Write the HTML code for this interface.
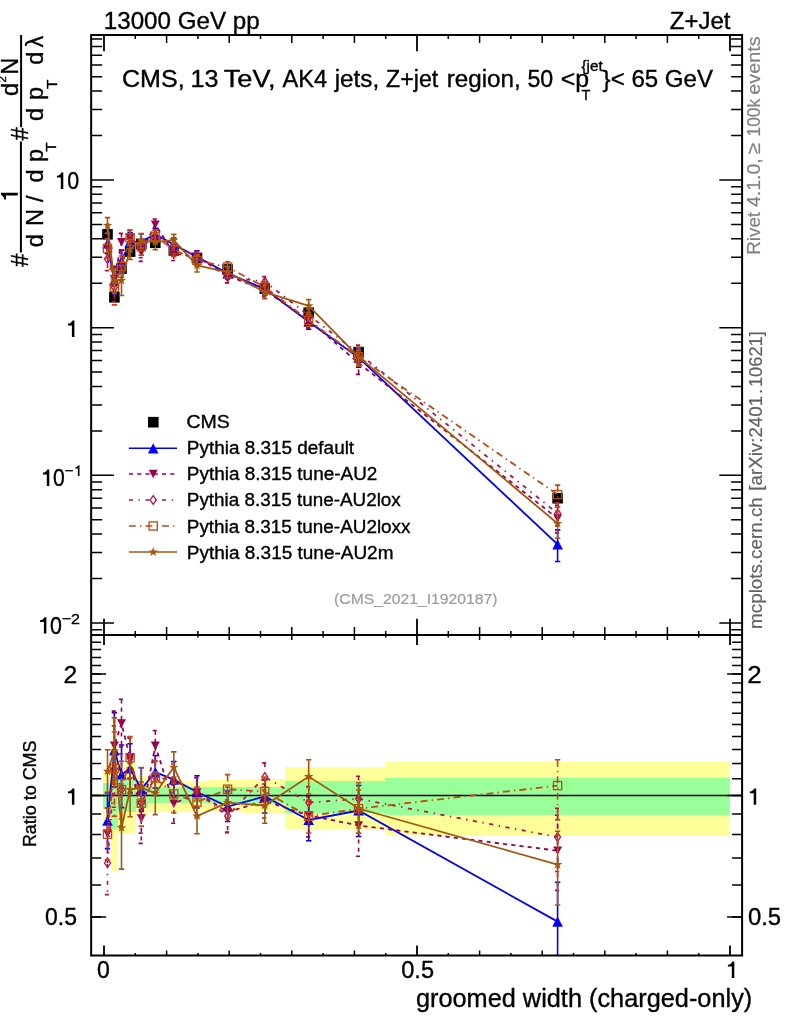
<!DOCTYPE html>
<html><head><meta charset="utf-8"><title>Z+Jet groomed width</title>
<style>html,body{margin:0;padding:0;background:#fff}body{width:786px;height:1024px;overflow:hidden;font-family:"Liberation Sans",sans-serif}svg{display:block;will-change:transform}</style>
</head><body>
<svg width="786" height="1024" viewBox="0 0 786 1024" font-family="Liberation Sans, sans-serif">
<rect width="786" height="1024" fill="#fff"/>
<g shape-rendering="crispEdges">
<rect x="103.3" y="771.5" width="7.5" height="51.8" fill="#ffff99"/>
<rect x="110.8" y="745.0" width="7.0" height="125.7" fill="#ffff99"/>
<rect x="117.8" y="771.7" width="6.6" height="60.8" fill="#ffff99"/>
<rect x="124.4" y="763.3" width="11.1" height="69.2" fill="#ffff99"/>
<rect x="135.5" y="776.3" width="12.7" height="40.1" fill="#ffff99"/>
<rect x="148.2" y="780.6" width="62.2" height="30.9" fill="#ffff99"/>
<rect x="210.4" y="780.4" width="34.0" height="30.1" fill="#ffff99"/>
<rect x="244.4" y="779.4" width="40.9" height="33.6" fill="#ffff99"/>
<rect x="285.3" y="767.3" width="100.1" height="61.4" fill="#ffff99"/>
<rect x="385.4" y="762.3" width="344.3" height="73.3" fill="#ffff99"/>
<rect x="103.3" y="783.0" width="7.5" height="26.0" fill="#99ff99"/>
<rect x="110.8" y="767.7" width="7.0" height="60.9" fill="#99ff99"/>
<rect x="117.8" y="780.0" width="6.6" height="32.2" fill="#99ff99"/>
<rect x="124.4" y="778.6" width="11.1" height="33.6" fill="#99ff99"/>
<rect x="135.5" y="782.5" width="12.7" height="24.5" fill="#99ff99"/>
<rect x="148.2" y="787.4" width="62.2" height="15.9" fill="#99ff99"/>
<rect x="210.4" y="787.2" width="34.0" height="16.8" fill="#99ff99"/>
<rect x="244.4" y="787.2" width="40.9" height="16.8" fill="#99ff99"/>
<rect x="285.3" y="780.7" width="100.1" height="32.5" fill="#99ff99"/>
<rect x="385.4" y="778.3" width="344.3" height="36.3" fill="#99ff99"/>
</g>
<defs><clipPath id="cm"><rect x="91.15" y="35.0" width="650.95" height="600.0"/></clipPath><clipPath id="cr"><rect x="91.15" y="635.0" width="650.95" height="320.5"/></clipPath></defs>
<line x1="91.15" x2="742.1" y1="795.5" y2="795.5" stroke="#000" stroke-width="1.5"/>
<g clip-path="url(#cm)">
<path d="M107.5,229.3V239.3" stroke="#000" stroke-width="1.4"/>
<path d="M114.4,292.3V302.3" stroke="#000" stroke-width="1.4"/>
<path d="M121.5,263.6V273.6" stroke="#000" stroke-width="1.4"/>
<path d="M130.1,246.6V256.6" stroke="#000" stroke-width="1.4"/>
<path d="M141.3,238.9V248.9" stroke="#000" stroke-width="1.4"/>
<path d="M155.3,237.8V247.8" stroke="#000" stroke-width="1.4"/>
<path d="M173.8,245.4V255.4" stroke="#000" stroke-width="1.4"/>
<path d="M197.0,253.0V263.0" stroke="#000" stroke-width="1.4"/>
<path d="M227.6,264.4V274.4" stroke="#000" stroke-width="1.4"/>
<path d="M264.8,283.5V293.5" stroke="#000" stroke-width="1.4"/>
<path d="M308.7,307.7V317.7" stroke="#000" stroke-width="1.4"/>
<path d="M358.6,347.1V357.1" stroke="#000" stroke-width="1.4"/>
<path d="M557.6,493.2V503.2" stroke="#000" stroke-width="1.4"/>
<rect x="102.2" y="229.0" width="10.6" height="10.6" fill="#000"/>
<rect x="109.1" y="292.0" width="10.6" height="10.6" fill="#000"/>
<rect x="116.2" y="263.3" width="10.6" height="10.6" fill="#000"/>
<rect x="124.8" y="246.3" width="10.6" height="10.6" fill="#000"/>
<rect x="136.0" y="238.6" width="10.6" height="10.6" fill="#000"/>
<rect x="150.0" y="237.5" width="10.6" height="10.6" fill="#000"/>
<rect x="168.5" y="245.1" width="10.6" height="10.6" fill="#000"/>
<rect x="191.7" y="252.7" width="10.6" height="10.6" fill="#000"/>
<rect x="222.3" y="264.1" width="10.6" height="10.6" fill="#000"/>
<rect x="259.5" y="283.2" width="10.6" height="10.6" fill="#000"/>
<rect x="303.4" y="307.4" width="10.6" height="10.6" fill="#000"/>
<rect x="353.3" y="346.8" width="10.6" height="10.6" fill="#000"/>
<rect x="552.3" y="492.9" width="10.6" height="10.6" fill="#000"/>
</g>
<g clip-path="url(#cm)">
<polyline points="107.5,243.5 114.4,280.7 121.5,260.9 130.1,241.7 141.3,241.6 155.3,234.3 173.8,244.6 197.0,256.7 227.6,273.4 264.8,288.9 308.7,321.7 358.6,357.6 557.6,544.4" fill="none" stroke="#0000ff" stroke-width="1.8"/>
<path d="M107.5,233.2V253.7M104.8,233.2h5.4M104.8,253.7h5.4" fill="none" stroke="#0000ff" stroke-width="1.6"/>
<path d="M114.4,267.0V294.2M111.7,267.0h5.4M111.7,294.2h5.4" fill="none" stroke="#0000ff" stroke-width="1.6"/>
<path d="M121.5,250.1V273.0M118.8,250.1h5.4M118.8,273.0h5.4" fill="none" stroke="#0000ff" stroke-width="1.6"/>
<path d="M130.1,232.7V250.7M127.4,232.7h5.4M127.4,250.7h5.4" fill="none" stroke="#0000ff" stroke-width="1.6"/>
<path d="M141.3,233.8V249.6M138.6,233.8h5.4M138.6,249.6h5.4" fill="none" stroke="#0000ff" stroke-width="1.6"/>
<path d="M155.3,228.2V240.1M152.6,228.2h5.4M152.6,240.1h5.4" fill="none" stroke="#0000ff" stroke-width="1.6"/>
<path d="M173.8,238.0V250.9M171.1,238.0h5.4M171.1,250.9h5.4" fill="none" stroke="#0000ff" stroke-width="1.6"/>
<path d="M197.0,250.8V262.6M194.3,250.8h5.4M194.3,262.6h5.4" fill="none" stroke="#0000ff" stroke-width="1.6"/>
<path d="M227.6,267.8V278.9M224.9,267.8h5.4M224.9,278.9h5.4" fill="none" stroke="#0000ff" stroke-width="1.6"/>
<path d="M264.8,282.8V294.9M262.1,282.8h5.4M262.1,294.9h5.4" fill="none" stroke="#0000ff" stroke-width="1.6"/>
<path d="M308.7,314.7V329.3M306.0,314.7h5.4M306.0,329.3h5.4" fill="none" stroke="#0000ff" stroke-width="1.6"/>
<path d="M358.6,348.4V367.1M355.9,348.4h5.4M355.9,367.1h5.4" fill="none" stroke="#0000ff" stroke-width="1.6"/>
<path d="M557.6,529.9V561.5M554.9,529.9h5.4M554.9,561.5h5.4" fill="none" stroke="#0000ff" stroke-width="1.6"/>
<path d="M102.2,248.6L112.8,248.6L107.5,238.4Z" fill="#0000ff"/>
<path d="M109.1,285.8L119.7,285.8L114.4,275.6Z" fill="#0000ff"/>
<path d="M116.2,266.0L126.8,266.0L121.5,255.8Z" fill="#0000ff"/>
<path d="M124.8,246.8L135.4,246.8L130.1,236.6Z" fill="#0000ff"/>
<path d="M136.0,246.7L146.6,246.7L141.3,236.5Z" fill="#0000ff"/>
<path d="M150.0,239.4L160.6,239.4L155.3,229.2Z" fill="#0000ff"/>
<path d="M168.5,249.7L179.1,249.7L173.8,239.5Z" fill="#0000ff"/>
<path d="M191.7,261.8L202.3,261.8L197.0,251.6Z" fill="#0000ff"/>
<path d="M222.3,278.5L232.9,278.5L227.6,268.3Z" fill="#0000ff"/>
<path d="M259.5,294.0L270.1,294.0L264.8,283.8Z" fill="#0000ff"/>
<path d="M303.4,326.8L314.0,326.8L308.7,316.6Z" fill="#0000ff"/>
<path d="M353.3,362.7L363.9,362.7L358.6,352.5Z" fill="#0000ff"/>
<path d="M552.3,549.5L562.9,549.5L557.6,539.3Z" fill="#0000ff"/>
</g>
<g clip-path="url(#cm)">
<polyline points="107.5,248.3 114.4,279.1 121.5,242.2 130.1,237.9 141.3,252.3 155.3,224.6 173.8,253.4 197.0,256.9 227.6,275.4 264.8,290.5 308.7,320.0 358.6,363.1 557.6,518.4" fill="none" stroke="#990050" stroke-width="1.8" stroke-dasharray="4.14 4.14"/>
<path d="M107.5,238.9V257.9M104.8,238.9h5.4M104.8,257.9h5.4" fill="none" stroke="#990050" stroke-width="1.6" stroke-dasharray="4.14 4.14"/>
<path d="M114.4,266.4V291.6M111.7,266.4h5.4M111.7,291.6h5.4" fill="none" stroke="#990050" stroke-width="1.6" stroke-dasharray="4.14 4.14"/>
<path d="M121.5,233.4V250.8M118.8,233.4h5.4M118.8,250.8h5.4" fill="none" stroke="#990050" stroke-width="1.6" stroke-dasharray="4.14 4.14"/>
<path d="M130.1,230.7V245.2M127.4,230.7h5.4M127.4,245.2h5.4" fill="none" stroke="#990050" stroke-width="1.6" stroke-dasharray="4.14 4.14"/>
<path d="M141.3,243.7V261.4M138.6,243.7h5.4M138.6,261.4h5.4" fill="none" stroke="#990050" stroke-width="1.6" stroke-dasharray="4.14 4.14"/>
<path d="M155.3,219.0V230.2M152.6,219.0h5.4M152.6,230.2h5.4" fill="none" stroke="#990050" stroke-width="1.6" stroke-dasharray="4.14 4.14"/>
<path d="M173.8,246.6V260.5M171.1,246.6h5.4M171.1,260.5h5.4" fill="none" stroke="#990050" stroke-width="1.6" stroke-dasharray="4.14 4.14"/>
<path d="M197.0,251.4V262.2M194.3,251.4h5.4M194.3,262.2h5.4" fill="none" stroke="#990050" stroke-width="1.6" stroke-dasharray="4.14 4.14"/>
<path d="M227.6,268.5V283.0M224.9,268.5h5.4M224.9,283.0h5.4" fill="none" stroke="#990050" stroke-width="1.6" stroke-dasharray="4.14 4.14"/>
<path d="M264.8,284.3V296.7M262.1,284.3h5.4M262.1,296.7h5.4" fill="none" stroke="#990050" stroke-width="1.6" stroke-dasharray="4.14 4.14"/>
<path d="M308.7,313.2V327.9M306.0,313.2h5.4M306.0,327.9h5.4" fill="none" stroke="#990050" stroke-width="1.6" stroke-dasharray="4.14 4.14"/>
<path d="M358.6,353.0V374.4M355.9,353.0h5.4M355.9,374.4h5.4" fill="none" stroke="#990050" stroke-width="1.6" stroke-dasharray="4.14 4.14"/>
<path d="M557.6,505.4V532.9M554.9,505.4h5.4M554.9,532.9h5.4" fill="none" stroke="#990050" stroke-width="1.6" stroke-dasharray="4.14 4.14"/>
<path d="M103.0,244.1L112.0,244.1L107.5,252.5Z" fill="#990050"/>
<path d="M109.9,274.9L118.9,274.9L114.4,283.3Z" fill="#990050"/>
<path d="M117.0,238.0L126.0,238.0L121.5,246.4Z" fill="#990050"/>
<path d="M125.6,233.7L134.6,233.7L130.1,242.1Z" fill="#990050"/>
<path d="M136.8,248.1L145.8,248.1L141.3,256.5Z" fill="#990050"/>
<path d="M150.8,220.4L159.8,220.4L155.3,228.8Z" fill="#990050"/>
<path d="M169.3,249.2L178.3,249.2L173.8,257.6Z" fill="#990050"/>
<path d="M192.5,252.7L201.5,252.7L197.0,261.1Z" fill="#990050"/>
<path d="M223.1,271.2L232.1,271.2L227.6,279.6Z" fill="#990050"/>
<path d="M260.3,286.3L269.3,286.3L264.8,294.7Z" fill="#990050"/>
<path d="M304.2,315.8L313.2,315.8L308.7,324.2Z" fill="#990050"/>
<path d="M354.1,358.9L363.1,358.9L358.6,367.3Z" fill="#990050"/>
<path d="M553.1,514.2L562.1,514.2L557.6,522.6Z" fill="#990050"/>
</g>
<g clip-path="url(#cm)">
<polyline points="107.5,259.0 114.4,287.6 121.5,266.4 130.1,237.9 141.3,246.6 155.3,236.0 173.8,244.9 197.0,256.7 227.6,276.9 264.8,281.7 308.7,315.3 358.6,353.3 557.6,513.4" fill="none" stroke="#b6104a" stroke-width="1.8" stroke-dasharray="4.14 5.52 1.38 5.52"/>
<path d="M107.5,247.3V270.6M104.8,247.3h5.4M104.8,270.6h5.4" fill="none" stroke="#b6104a" stroke-width="1.6" stroke-dasharray="4.14 5.52 1.38 5.52"/>
<path d="M114.4,271.8V301.6M111.7,271.8h5.4M111.7,301.6h5.4" fill="none" stroke="#b6104a" stroke-width="1.6" stroke-dasharray="4.14 5.52 1.38 5.52"/>
<path d="M121.5,253.3V279.8M118.8,253.3h5.4M118.8,279.8h5.4" fill="none" stroke="#b6104a" stroke-width="1.6" stroke-dasharray="4.14 5.52 1.38 5.52"/>
<path d="M130.1,230.2V245.6M127.4,230.2h5.4M127.4,245.6h5.4" fill="none" stroke="#b6104a" stroke-width="1.6" stroke-dasharray="4.14 5.52 1.38 5.52"/>
<path d="M141.3,240.1V257.7M138.6,240.1h5.4M138.6,257.7h5.4" fill="none" stroke="#b6104a" stroke-width="1.6" stroke-dasharray="4.14 5.52 1.38 5.52"/>
<path d="M155.3,230.5V241.5M152.6,230.5h5.4M152.6,241.5h5.4" fill="none" stroke="#b6104a" stroke-width="1.6" stroke-dasharray="4.14 5.52 1.38 5.52"/>
<path d="M173.8,238.9V250.9M171.1,238.9h5.4M171.1,250.9h5.4" fill="none" stroke="#b6104a" stroke-width="1.6" stroke-dasharray="4.14 5.52 1.38 5.52"/>
<path d="M197.0,251.6V261.8M194.3,251.6h5.4M194.3,261.8h5.4" fill="none" stroke="#b6104a" stroke-width="1.6" stroke-dasharray="4.14 5.52 1.38 5.52"/>
<path d="M227.6,271.0V282.8M224.9,271.0h5.4M224.9,282.8h5.4" fill="none" stroke="#b6104a" stroke-width="1.6" stroke-dasharray="4.14 5.52 1.38 5.52"/>
<path d="M264.8,276.6V286.5M262.1,276.6h5.4M262.1,286.5h5.4" fill="none" stroke="#b6104a" stroke-width="1.6" stroke-dasharray="4.14 5.52 1.38 5.52"/>
<path d="M308.7,309.4V321.7M306.0,309.4h5.4M306.0,321.7h5.4" fill="none" stroke="#b6104a" stroke-width="1.6" stroke-dasharray="4.14 5.52 1.38 5.52"/>
<path d="M358.6,345.1V362.2M355.9,345.1h5.4M355.9,362.2h5.4" fill="none" stroke="#b6104a" stroke-width="1.6" stroke-dasharray="4.14 5.52 1.38 5.52"/>
<path d="M557.6,502.9V526.0M554.9,502.9h5.4M554.9,526.0h5.4" fill="none" stroke="#b6104a" stroke-width="1.6" stroke-dasharray="4.14 5.52 1.38 5.52"/>
<path d="M107.5,254.7L110.5,259.0L107.5,263.3L104.5,259.0Z" fill="none" stroke="#b6104a" stroke-width="1.3"/>
<path d="M114.4,283.3L117.4,287.6L114.4,291.9L111.4,287.6Z" fill="none" stroke="#b6104a" stroke-width="1.3"/>
<path d="M121.5,262.1L124.5,266.4L121.5,270.7L118.5,266.4Z" fill="none" stroke="#b6104a" stroke-width="1.3"/>
<path d="M130.1,233.6L133.1,237.9L130.1,242.2L127.1,237.9Z" fill="none" stroke="#b6104a" stroke-width="1.3"/>
<path d="M141.3,242.3L144.3,246.6L141.3,250.9L138.3,246.6Z" fill="none" stroke="#b6104a" stroke-width="1.3"/>
<path d="M155.3,231.7L158.3,236.0L155.3,240.3L152.3,236.0Z" fill="none" stroke="#b6104a" stroke-width="1.3"/>
<path d="M173.8,240.6L176.8,244.9L173.8,249.2L170.8,244.9Z" fill="none" stroke="#b6104a" stroke-width="1.3"/>
<path d="M197.0,252.4L200.0,256.7L197.0,261.0L194.0,256.7Z" fill="none" stroke="#b6104a" stroke-width="1.3"/>
<path d="M227.6,272.6L230.6,276.9L227.6,281.2L224.6,276.9Z" fill="none" stroke="#b6104a" stroke-width="1.3"/>
<path d="M264.8,277.4L267.8,281.7L264.8,286.0L261.8,281.7Z" fill="none" stroke="#b6104a" stroke-width="1.3"/>
<path d="M308.7,311.0L311.7,315.3L308.7,319.6L305.7,315.3Z" fill="none" stroke="#b6104a" stroke-width="1.3"/>
<path d="M358.6,349.0L361.6,353.3L358.6,357.6L355.6,353.3Z" fill="none" stroke="#b6104a" stroke-width="1.3"/>
<path d="M557.6,509.1L560.6,513.4L557.6,517.7L554.6,513.4Z" fill="none" stroke="#b6104a" stroke-width="1.3"/>
</g>
<g clip-path="url(#cm)">
<polyline points="107.5,248.5 114.4,287.4 121.5,266.5 130.1,237.8 141.3,246.7 155.3,236.4 173.8,249.8 197.0,260.4 227.6,267.1 264.8,287.1 308.7,320.3 358.6,356.9 557.6,494.6" fill="none" stroke="#c24a12" stroke-width="1.8" stroke-dasharray="6.9 4.14 1.38 4.14"/>
<path d="M107.5,238.9V257.9M104.8,238.9h5.4M104.8,257.9h5.4" fill="none" stroke="#c24a12" stroke-width="1.6" stroke-dasharray="6.9 4.14 1.38 4.14"/>
<path d="M114.4,274.0V304.9M111.7,274.0h5.4M111.7,304.9h5.4" fill="none" stroke="#c24a12" stroke-width="1.6" stroke-dasharray="6.9 4.14 1.38 4.14"/>
<path d="M121.5,256.0V277.2M118.8,256.0h5.4M118.8,277.2h5.4" fill="none" stroke="#c24a12" stroke-width="1.6" stroke-dasharray="6.9 4.14 1.38 4.14"/>
<path d="M130.1,230.0V245.2M127.4,230.0h5.4M127.4,245.2h5.4" fill="none" stroke="#c24a12" stroke-width="1.6" stroke-dasharray="6.9 4.14 1.38 4.14"/>
<path d="M141.3,239.0V255.1M138.6,239.0h5.4M138.6,255.1h5.4" fill="none" stroke="#c24a12" stroke-width="1.6" stroke-dasharray="6.9 4.14 1.38 4.14"/>
<path d="M155.3,230.2V242.6M152.6,230.2h5.4M152.6,242.6h5.4" fill="none" stroke="#c24a12" stroke-width="1.6" stroke-dasharray="6.9 4.14 1.38 4.14"/>
<path d="M173.8,243.6V256.7M171.1,243.6h5.4M171.1,256.7h5.4" fill="none" stroke="#c24a12" stroke-width="1.6" stroke-dasharray="6.9 4.14 1.38 4.14"/>
<path d="M197.0,254.9V265.9M194.3,254.9h5.4M194.3,265.9h5.4" fill="none" stroke="#c24a12" stroke-width="1.6" stroke-dasharray="6.9 4.14 1.38 4.14"/>
<path d="M227.6,261.7V272.1M224.9,261.7h5.4M224.9,272.1h5.4" fill="none" stroke="#c24a12" stroke-width="1.6" stroke-dasharray="6.9 4.14 1.38 4.14"/>
<path d="M264.8,281.7V292.7M262.1,281.7h5.4M262.1,292.7h5.4" fill="none" stroke="#c24a12" stroke-width="1.6" stroke-dasharray="6.9 4.14 1.38 4.14"/>
<path d="M308.7,314.3V326.4M306.0,314.3h5.4M306.0,326.4h5.4" fill="none" stroke="#c24a12" stroke-width="1.6" stroke-dasharray="6.9 4.14 1.38 4.14"/>
<path d="M358.6,350.1V364.0M355.9,350.1h5.4M355.9,364.0h5.4" fill="none" stroke="#c24a12" stroke-width="1.6" stroke-dasharray="6.9 4.14 1.38 4.14"/>
<path d="M557.6,485.1V507.1M554.9,485.1h5.4M554.9,507.1h5.4" fill="none" stroke="#c24a12" stroke-width="1.6" stroke-dasharray="6.9 4.14 1.38 4.14"/>
<rect x="103.4" y="244.4" width="8.2" height="8.2" fill="none" stroke="#c24a12" stroke-width="1.3"/>
<rect x="110.3" y="283.3" width="8.2" height="8.2" fill="none" stroke="#c24a12" stroke-width="1.3"/>
<rect x="117.4" y="262.4" width="8.2" height="8.2" fill="none" stroke="#c24a12" stroke-width="1.3"/>
<rect x="126.0" y="233.7" width="8.2" height="8.2" fill="none" stroke="#c24a12" stroke-width="1.3"/>
<rect x="137.2" y="242.6" width="8.2" height="8.2" fill="none" stroke="#c24a12" stroke-width="1.3"/>
<rect x="151.2" y="232.3" width="8.2" height="8.2" fill="none" stroke="#c24a12" stroke-width="1.3"/>
<rect x="169.7" y="245.7" width="8.2" height="8.2" fill="none" stroke="#c24a12" stroke-width="1.3"/>
<rect x="192.9" y="256.3" width="8.2" height="8.2" fill="none" stroke="#c24a12" stroke-width="1.3"/>
<rect x="223.5" y="263.0" width="8.2" height="8.2" fill="none" stroke="#c24a12" stroke-width="1.3"/>
<rect x="260.7" y="283.0" width="8.2" height="8.2" fill="none" stroke="#c24a12" stroke-width="1.3"/>
<rect x="304.6" y="316.2" width="8.2" height="8.2" fill="none" stroke="#c24a12" stroke-width="1.3"/>
<rect x="354.5" y="352.8" width="8.2" height="8.2" fill="none" stroke="#c24a12" stroke-width="1.3"/>
<rect x="553.5" y="490.5" width="8.2" height="8.2" fill="none" stroke="#c24a12" stroke-width="1.3"/>
</g>
<g clip-path="url(#cm)">
<polyline points="107.5,225.4 114.4,281.0 121.5,280.4 130.1,249.4 141.3,240.9 155.3,242.0 173.8,240.1 197.0,265.5 227.6,272.0 264.8,292.2 308.7,305.8 358.6,356.9 557.6,523.5" fill="none" stroke="#a4580e" stroke-width="1.8"/>
<path d="M107.5,217.6V233.4M104.8,217.6h5.4M104.8,233.4h5.4" fill="none" stroke="#a4580e" stroke-width="1.6"/>
<path d="M114.4,268.9V293.1M111.7,268.9h5.4M111.7,293.1h5.4" fill="none" stroke="#a4580e" stroke-width="1.6"/>
<path d="M121.5,265.5V295.5M118.8,265.5h5.4M118.8,295.5h5.4" fill="none" stroke="#a4580e" stroke-width="1.6"/>
<path d="M130.1,239.3V259.4M127.4,239.3h5.4M127.4,259.4h5.4" fill="none" stroke="#a4580e" stroke-width="1.6"/>
<path d="M141.3,233.6V248.1M138.6,233.6h5.4M138.6,248.1h5.4" fill="none" stroke="#a4580e" stroke-width="1.6"/>
<path d="M155.3,234.2V249.8M152.6,234.2h5.4M152.6,249.8h5.4" fill="none" stroke="#a4580e" stroke-width="1.6"/>
<path d="M173.8,234.4V245.8M171.1,234.4h5.4M171.1,245.8h5.4" fill="none" stroke="#a4580e" stroke-width="1.6"/>
<path d="M197.0,259.6V272.0M194.3,259.6h5.4M194.3,272.0h5.4" fill="none" stroke="#a4580e" stroke-width="1.6"/>
<path d="M227.6,266.3V278.0M224.9,266.3h5.4M224.9,278.0h5.4" fill="none" stroke="#a4580e" stroke-width="1.6"/>
<path d="M264.8,285.4V298.6M262.1,285.4h5.4M262.1,298.6h5.4" fill="none" stroke="#a4580e" stroke-width="1.6"/>
<path d="M308.7,299.6V312.2M306.0,299.6h5.4M306.0,312.2h5.4" fill="none" stroke="#a4580e" stroke-width="1.6"/>
<path d="M358.6,347.4V365.9M355.9,347.4h5.4M355.9,365.9h5.4" fill="none" stroke="#a4580e" stroke-width="1.6"/>
<path d="M557.6,511.3V538.3M554.9,511.3h5.4M554.9,538.3h5.4" fill="none" stroke="#a4580e" stroke-width="1.6"/>
<path d="M107.5,220.4L108.7,223.8L112.3,223.9L109.4,226.1L110.4,229.5L107.5,227.4L104.6,229.5L105.6,226.1L102.7,223.9L106.3,223.8Z" fill="#a4580e"/>
<path d="M114.4,276.0L115.6,279.4L119.2,279.5L116.3,281.6L117.3,285.1L114.4,283.0L111.5,285.1L112.5,281.6L109.6,279.5L113.2,279.4Z" fill="#a4580e"/>
<path d="M121.5,275.4L122.7,278.8L126.3,278.9L123.4,281.0L124.4,284.5L121.5,282.4L118.6,284.5L119.6,281.0L116.7,278.9L120.3,278.8Z" fill="#a4580e"/>
<path d="M130.1,244.4L131.3,247.8L134.9,247.9L132.0,250.1L133.0,253.5L130.1,251.4L127.2,253.5L128.2,250.1L125.3,247.9L128.9,247.8Z" fill="#a4580e"/>
<path d="M141.3,235.9L142.5,239.3L146.1,239.4L143.2,241.6L144.2,245.0L141.3,242.9L138.4,245.0L139.4,241.6L136.5,239.4L140.1,239.3Z" fill="#a4580e"/>
<path d="M155.3,237.0L156.5,240.4L160.1,240.4L157.2,242.6L158.2,246.0L155.3,244.0L152.4,246.0L153.4,242.6L150.5,240.4L154.1,240.4Z" fill="#a4580e"/>
<path d="M173.8,235.1L175.0,238.5L178.6,238.5L175.7,240.7L176.7,244.1L173.8,242.1L170.9,244.1L171.9,240.7L169.0,238.5L172.6,238.5Z" fill="#a4580e"/>
<path d="M197.0,260.5L198.2,263.9L201.8,264.0L198.9,266.2L199.9,269.6L197.0,267.5L194.1,269.6L195.1,266.2L192.2,264.0L195.8,263.9Z" fill="#a4580e"/>
<path d="M227.6,267.0L228.8,270.4L232.4,270.5L229.5,272.7L230.5,276.1L227.6,274.0L224.7,276.1L225.7,272.7L222.8,270.5L226.4,270.4Z" fill="#a4580e"/>
<path d="M264.8,287.2L266.0,290.6L269.6,290.7L266.7,292.8L267.7,296.2L264.8,294.2L261.9,296.2L262.9,292.8L260.0,290.7L263.6,290.6Z" fill="#a4580e"/>
<path d="M308.7,300.8L309.9,304.2L313.5,304.2L310.6,306.4L311.6,309.8L308.7,307.8L305.8,309.8L306.8,306.4L303.9,304.2L307.5,304.2Z" fill="#a4580e"/>
<path d="M358.6,351.9L359.8,355.2L363.4,355.3L360.5,357.5L361.5,360.9L358.6,358.9L355.7,360.9L356.7,357.5L353.8,355.3L357.4,355.2Z" fill="#a4580e"/>
<path d="M557.6,518.5L558.8,521.9L562.4,522.0L559.5,524.1L560.5,527.5L557.6,525.5L554.7,527.5L555.7,524.1L552.8,522.0L556.4,521.9Z" fill="#a4580e"/>
</g>
<g clip-path="url(#cr)">
<polyline points="107.5,820.6 114.4,750.3 121.5,774.5 130.1,768.5 141.3,789.3 155.3,772.2 173.8,779.6 197.0,792.0 227.6,806.5 264.8,796.5 308.7,820.0 358.6,810.5 557.6,921.6" fill="none" stroke="#0000ff" stroke-width="1.8"/>
<path d="M107.5,792.6V848.6M104.8,792.6h5.4M104.8,848.6h5.4" fill="none" stroke="#0000ff" stroke-width="1.6"/>
<path d="M114.4,712.7V787.0M111.7,712.7h5.4M111.7,787.0h5.4" fill="none" stroke="#0000ff" stroke-width="1.6"/>
<path d="M121.5,745.0V807.6M118.8,745.0h5.4M118.8,807.6h5.4" fill="none" stroke="#0000ff" stroke-width="1.6"/>
<path d="M130.1,743.8V793.0M127.4,743.8h5.4M127.4,793.0h5.4" fill="none" stroke="#0000ff" stroke-width="1.6"/>
<path d="M141.3,767.8V811.0M138.6,767.8h5.4M138.6,811.0h5.4" fill="none" stroke="#0000ff" stroke-width="1.6"/>
<path d="M155.3,755.5V788.0M152.6,755.5h5.4M152.6,788.0h5.4" fill="none" stroke="#0000ff" stroke-width="1.6"/>
<path d="M173.8,761.6V797.0M171.1,761.6h5.4M171.1,797.0h5.4" fill="none" stroke="#0000ff" stroke-width="1.6"/>
<path d="M197.0,775.7V808.0M194.3,775.7h5.4M194.3,808.0h5.4" fill="none" stroke="#0000ff" stroke-width="1.6"/>
<path d="M227.6,791.0V821.5M224.9,791.0h5.4M224.9,821.5h5.4" fill="none" stroke="#0000ff" stroke-width="1.6"/>
<path d="M264.8,780.0V813.0M262.1,780.0h5.4M262.1,813.0h5.4" fill="none" stroke="#0000ff" stroke-width="1.6"/>
<path d="M308.7,801.0V840.8M306.0,801.0h5.4M306.0,840.8h5.4" fill="none" stroke="#0000ff" stroke-width="1.6"/>
<path d="M358.6,785.5V836.5M355.9,785.5h5.4M355.9,836.5h5.4" fill="none" stroke="#0000ff" stroke-width="1.6"/>
<path d="M557.6,882.2V968.4M554.9,882.2h5.4M554.9,968.4h5.4" fill="none" stroke="#0000ff" stroke-width="1.6"/>
<path d="M102.2,825.7L112.8,825.7L107.5,815.5Z" fill="#0000ff"/>
<path d="M109.1,755.4L119.7,755.4L114.4,745.2Z" fill="#0000ff"/>
<path d="M116.2,779.6L126.8,779.6L121.5,769.4Z" fill="#0000ff"/>
<path d="M124.8,773.6L135.4,773.6L130.1,763.4Z" fill="#0000ff"/>
<path d="M136.0,794.4L146.6,794.4L141.3,784.2Z" fill="#0000ff"/>
<path d="M150.0,777.3L160.6,777.3L155.3,767.1Z" fill="#0000ff"/>
<path d="M168.5,784.7L179.1,784.7L173.8,774.5Z" fill="#0000ff"/>
<path d="M191.7,797.1L202.3,797.1L197.0,786.9Z" fill="#0000ff"/>
<path d="M222.3,811.6L232.9,811.6L227.6,801.4Z" fill="#0000ff"/>
<path d="M259.5,801.6L270.1,801.6L264.8,791.4Z" fill="#0000ff"/>
<path d="M303.4,825.1L314.0,825.1L308.7,814.9Z" fill="#0000ff"/>
<path d="M353.3,815.6L363.9,815.6L358.6,805.4Z" fill="#0000ff"/>
<path d="M552.3,926.7L562.9,926.7L557.6,916.5Z" fill="#0000ff"/>
</g>
<g clip-path="url(#cr)">
<polyline points="107.5,833.8 114.4,745.8 121.5,723.5 130.1,758.0 141.3,818.5 155.3,745.8 173.8,803.8 197.0,792.5 227.6,812.0 264.8,801.0 308.7,815.4 358.6,825.5 557.6,850.7" fill="none" stroke="#990050" stroke-width="1.8" stroke-dasharray="4.14 4.14"/>
<path d="M107.5,808.0V860.0M104.8,808.0h5.4M104.8,860.0h5.4" fill="none" stroke="#990050" stroke-width="1.6" stroke-dasharray="4.14 4.14"/>
<path d="M114.4,711.1V780.0M111.7,711.1h5.4M111.7,780.0h5.4" fill="none" stroke="#990050" stroke-width="1.6" stroke-dasharray="4.14 4.14"/>
<path d="M121.5,699.3V747.0M118.8,699.3h5.4M118.8,747.0h5.4" fill="none" stroke="#990050" stroke-width="1.6" stroke-dasharray="4.14 4.14"/>
<path d="M130.1,738.3V778.0M127.4,738.3h5.4M127.4,778.0h5.4" fill="none" stroke="#990050" stroke-width="1.6" stroke-dasharray="4.14 4.14"/>
<path d="M141.3,795.0V843.4M138.6,795.0h5.4M138.6,843.4h5.4" fill="none" stroke="#990050" stroke-width="1.6" stroke-dasharray="4.14 4.14"/>
<path d="M155.3,730.5V761.0M152.6,730.5h5.4M152.6,761.0h5.4" fill="none" stroke="#990050" stroke-width="1.6" stroke-dasharray="4.14 4.14"/>
<path d="M173.8,785.0V823.2M171.1,785.0h5.4M171.1,823.2h5.4" fill="none" stroke="#990050" stroke-width="1.6" stroke-dasharray="4.14 4.14"/>
<path d="M197.0,777.5V807.0M194.3,777.5h5.4M194.3,807.0h5.4" fill="none" stroke="#990050" stroke-width="1.6" stroke-dasharray="4.14 4.14"/>
<path d="M227.6,793.0V832.6M224.9,793.0h5.4M224.9,832.6h5.4" fill="none" stroke="#990050" stroke-width="1.6" stroke-dasharray="4.14 4.14"/>
<path d="M264.8,784.0V818.0M262.1,784.0h5.4M262.1,818.0h5.4" fill="none" stroke="#990050" stroke-width="1.6" stroke-dasharray="4.14 4.14"/>
<path d="M308.7,797.0V836.9M306.0,797.0h5.4M306.0,836.9h5.4" fill="none" stroke="#990050" stroke-width="1.6" stroke-dasharray="4.14 4.14"/>
<path d="M358.6,798.0V856.3M355.9,798.0h5.4M355.9,856.3h5.4" fill="none" stroke="#990050" stroke-width="1.6" stroke-dasharray="4.14 4.14"/>
<path d="M557.6,815.2V890.4M554.9,815.2h5.4M554.9,890.4h5.4" fill="none" stroke="#990050" stroke-width="1.6" stroke-dasharray="4.14 4.14"/>
<path d="M103.0,829.6L112.0,829.6L107.5,838.0Z" fill="#990050"/>
<path d="M109.9,741.6L118.9,741.6L114.4,750.0Z" fill="#990050"/>
<path d="M117.0,719.3L126.0,719.3L121.5,727.7Z" fill="#990050"/>
<path d="M125.6,753.8L134.6,753.8L130.1,762.2Z" fill="#990050"/>
<path d="M136.8,814.3L145.8,814.3L141.3,822.7Z" fill="#990050"/>
<path d="M150.8,741.6L159.8,741.6L155.3,750.0Z" fill="#990050"/>
<path d="M169.3,799.6L178.3,799.6L173.8,808.0Z" fill="#990050"/>
<path d="M192.5,788.3L201.5,788.3L197.0,796.7Z" fill="#990050"/>
<path d="M223.1,807.8L232.1,807.8L227.6,816.2Z" fill="#990050"/>
<path d="M260.3,796.8L269.3,796.8L264.8,805.2Z" fill="#990050"/>
<path d="M304.2,811.2L313.2,811.2L308.7,819.6Z" fill="#990050"/>
<path d="M354.1,821.3L363.1,821.3L358.6,829.7Z" fill="#990050"/>
<path d="M553.1,846.5L562.1,846.5L557.6,854.9Z" fill="#990050"/>
</g>
<g clip-path="url(#cr)">
<polyline points="107.5,863.0 114.4,769.0 121.5,789.6 130.1,758.0 141.3,803.0 155.3,777.0 173.8,780.4 197.0,792.0 227.6,816.0 264.8,776.9 308.7,802.6 358.6,798.8 557.6,837.1" fill="none" stroke="#b6104a" stroke-width="1.8" stroke-dasharray="4.14 5.52 1.38 5.52"/>
<path d="M107.5,831.0V894.6M104.8,831.0h5.4M104.8,894.6h5.4" fill="none" stroke="#b6104a" stroke-width="1.6" stroke-dasharray="4.14 5.52 1.38 5.52"/>
<path d="M114.4,725.9V807.2M111.7,725.9h5.4M111.7,807.2h5.4" fill="none" stroke="#b6104a" stroke-width="1.6" stroke-dasharray="4.14 5.52 1.38 5.52"/>
<path d="M121.5,753.7V826.0M118.8,753.7h5.4M118.8,826.0h5.4" fill="none" stroke="#b6104a" stroke-width="1.6" stroke-dasharray="4.14 5.52 1.38 5.52"/>
<path d="M130.1,737.0V779.0M127.4,737.0h5.4M127.4,779.0h5.4" fill="none" stroke="#b6104a" stroke-width="1.6" stroke-dasharray="4.14 5.52 1.38 5.52"/>
<path d="M141.3,785.0V833.1M138.6,785.0h5.4M138.6,833.1h5.4" fill="none" stroke="#b6104a" stroke-width="1.6" stroke-dasharray="4.14 5.52 1.38 5.52"/>
<path d="M155.3,762.0V792.0M152.6,762.0h5.4M152.6,792.0h5.4" fill="none" stroke="#b6104a" stroke-width="1.6" stroke-dasharray="4.14 5.52 1.38 5.52"/>
<path d="M173.8,764.0V797.0M171.1,764.0h5.4M171.1,797.0h5.4" fill="none" stroke="#b6104a" stroke-width="1.6" stroke-dasharray="4.14 5.52 1.38 5.52"/>
<path d="M197.0,778.0V806.0M194.3,778.0h5.4M194.3,806.0h5.4" fill="none" stroke="#b6104a" stroke-width="1.6" stroke-dasharray="4.14 5.52 1.38 5.52"/>
<path d="M227.6,800.0V832.0M224.9,800.0h5.4M224.9,832.0h5.4" fill="none" stroke="#b6104a" stroke-width="1.6" stroke-dasharray="4.14 5.52 1.38 5.52"/>
<path d="M264.8,762.9V790.0M262.1,762.9h5.4M262.1,790.0h5.4" fill="none" stroke="#b6104a" stroke-width="1.6" stroke-dasharray="4.14 5.52 1.38 5.52"/>
<path d="M308.7,786.6V820.0M306.0,786.6h5.4M306.0,820.0h5.4" fill="none" stroke="#b6104a" stroke-width="1.6" stroke-dasharray="4.14 5.52 1.38 5.52"/>
<path d="M358.6,776.3V823.0M355.9,776.3h5.4M355.9,823.0h5.4" fill="none" stroke="#b6104a" stroke-width="1.6" stroke-dasharray="4.14 5.52 1.38 5.52"/>
<path d="M557.6,808.3V871.5M554.9,808.3h5.4M554.9,871.5h5.4" fill="none" stroke="#b6104a" stroke-width="1.6" stroke-dasharray="4.14 5.52 1.38 5.52"/>
<path d="M107.5,858.7L110.5,863.0L107.5,867.3L104.5,863.0Z" fill="none" stroke="#b6104a" stroke-width="1.3"/>
<path d="M114.4,764.7L117.4,769.0L114.4,773.3L111.4,769.0Z" fill="none" stroke="#b6104a" stroke-width="1.3"/>
<path d="M121.5,785.3L124.5,789.6L121.5,793.9L118.5,789.6Z" fill="none" stroke="#b6104a" stroke-width="1.3"/>
<path d="M130.1,753.7L133.1,758.0L130.1,762.3L127.1,758.0Z" fill="none" stroke="#b6104a" stroke-width="1.3"/>
<path d="M141.3,798.7L144.3,803.0L141.3,807.3L138.3,803.0Z" fill="none" stroke="#b6104a" stroke-width="1.3"/>
<path d="M155.3,772.7L158.3,777.0L155.3,781.3L152.3,777.0Z" fill="none" stroke="#b6104a" stroke-width="1.3"/>
<path d="M173.8,776.1L176.8,780.4L173.8,784.7L170.8,780.4Z" fill="none" stroke="#b6104a" stroke-width="1.3"/>
<path d="M197.0,787.7L200.0,792.0L197.0,796.3L194.0,792.0Z" fill="none" stroke="#b6104a" stroke-width="1.3"/>
<path d="M227.6,811.7L230.6,816.0L227.6,820.3L224.6,816.0Z" fill="none" stroke="#b6104a" stroke-width="1.3"/>
<path d="M264.8,772.6L267.8,776.9L264.8,781.2L261.8,776.9Z" fill="none" stroke="#b6104a" stroke-width="1.3"/>
<path d="M308.7,798.3L311.7,802.6L308.7,806.9L305.7,802.6Z" fill="none" stroke="#b6104a" stroke-width="1.3"/>
<path d="M358.6,794.5L361.6,798.8L358.6,803.1L355.6,798.8Z" fill="none" stroke="#b6104a" stroke-width="1.3"/>
<path d="M557.6,832.8L560.6,837.1L557.6,841.4L554.6,837.1Z" fill="none" stroke="#b6104a" stroke-width="1.3"/>
</g>
<g clip-path="url(#cr)">
<polyline points="107.5,834.2 114.4,768.4 121.5,789.7 130.1,757.7 141.3,803.2 155.3,778.0 173.8,793.9 197.0,802.1 227.6,789.2 264.8,791.6 308.7,816.3 358.6,808.7 557.6,785.6" fill="none" stroke="#c24a12" stroke-width="1.8" stroke-dasharray="6.9 4.14 1.38 4.14"/>
<path d="M107.5,808.0V860.0M104.8,808.0h5.4M104.8,860.0h5.4" fill="none" stroke="#c24a12" stroke-width="1.6" stroke-dasharray="6.9 4.14 1.38 4.14"/>
<path d="M114.4,732.0V816.3M111.7,732.0h5.4M111.7,816.3h5.4" fill="none" stroke="#c24a12" stroke-width="1.6" stroke-dasharray="6.9 4.14 1.38 4.14"/>
<path d="M121.5,761.2V819.0M118.8,761.2h5.4M118.8,819.0h5.4" fill="none" stroke="#c24a12" stroke-width="1.6" stroke-dasharray="6.9 4.14 1.38 4.14"/>
<path d="M130.1,736.6V778.0M127.4,736.6h5.4M127.4,778.0h5.4" fill="none" stroke="#c24a12" stroke-width="1.6" stroke-dasharray="6.9 4.14 1.38 4.14"/>
<path d="M141.3,782.0V826.1M138.6,782.0h5.4M138.6,826.1h5.4" fill="none" stroke="#c24a12" stroke-width="1.6" stroke-dasharray="6.9 4.14 1.38 4.14"/>
<path d="M155.3,761.0V795.0M152.6,761.0h5.4M152.6,795.0h5.4" fill="none" stroke="#c24a12" stroke-width="1.6" stroke-dasharray="6.9 4.14 1.38 4.14"/>
<path d="M173.8,777.0V812.6M171.1,777.0h5.4M171.1,812.6h5.4" fill="none" stroke="#c24a12" stroke-width="1.6" stroke-dasharray="6.9 4.14 1.38 4.14"/>
<path d="M197.0,787.0V817.0M194.3,787.0h5.4M194.3,817.0h5.4" fill="none" stroke="#c24a12" stroke-width="1.6" stroke-dasharray="6.9 4.14 1.38 4.14"/>
<path d="M227.6,774.6V803.0M224.9,774.6h5.4M224.9,803.0h5.4" fill="none" stroke="#c24a12" stroke-width="1.6" stroke-dasharray="6.9 4.14 1.38 4.14"/>
<path d="M264.8,777.0V807.0M262.1,777.0h5.4M262.1,807.0h5.4" fill="none" stroke="#c24a12" stroke-width="1.6" stroke-dasharray="6.9 4.14 1.38 4.14"/>
<path d="M308.7,800.0V833.0M306.0,800.0h5.4M306.0,833.0h5.4" fill="none" stroke="#c24a12" stroke-width="1.6" stroke-dasharray="6.9 4.14 1.38 4.14"/>
<path d="M358.6,790.0V828.0M355.9,790.0h5.4M355.9,828.0h5.4" fill="none" stroke="#c24a12" stroke-width="1.6" stroke-dasharray="6.9 4.14 1.38 4.14"/>
<path d="M557.6,759.8V819.9M554.9,759.8h5.4M554.9,819.9h5.4" fill="none" stroke="#c24a12" stroke-width="1.6" stroke-dasharray="6.9 4.14 1.38 4.14"/>
<rect x="103.4" y="830.1" width="8.2" height="8.2" fill="none" stroke="#c24a12" stroke-width="1.3"/>
<rect x="110.3" y="764.3" width="8.2" height="8.2" fill="none" stroke="#c24a12" stroke-width="1.3"/>
<rect x="117.4" y="785.6" width="8.2" height="8.2" fill="none" stroke="#c24a12" stroke-width="1.3"/>
<rect x="126.0" y="753.6" width="8.2" height="8.2" fill="none" stroke="#c24a12" stroke-width="1.3"/>
<rect x="137.2" y="799.1" width="8.2" height="8.2" fill="none" stroke="#c24a12" stroke-width="1.3"/>
<rect x="151.2" y="773.9" width="8.2" height="8.2" fill="none" stroke="#c24a12" stroke-width="1.3"/>
<rect x="169.7" y="789.8" width="8.2" height="8.2" fill="none" stroke="#c24a12" stroke-width="1.3"/>
<rect x="192.9" y="798.0" width="8.2" height="8.2" fill="none" stroke="#c24a12" stroke-width="1.3"/>
<rect x="223.5" y="785.1" width="8.2" height="8.2" fill="none" stroke="#c24a12" stroke-width="1.3"/>
<rect x="260.7" y="787.5" width="8.2" height="8.2" fill="none" stroke="#c24a12" stroke-width="1.3"/>
<rect x="304.6" y="812.2" width="8.2" height="8.2" fill="none" stroke="#c24a12" stroke-width="1.3"/>
<rect x="354.5" y="804.6" width="8.2" height="8.2" fill="none" stroke="#c24a12" stroke-width="1.3"/>
<rect x="553.5" y="781.5" width="8.2" height="8.2" fill="none" stroke="#c24a12" stroke-width="1.3"/>
</g>
<g clip-path="url(#cr)">
<polyline points="107.5,771.3 114.4,751.0 121.5,827.8 130.1,789.6 141.3,787.4 155.3,793.3 173.8,767.3 197.0,816.1 227.6,802.7 264.8,805.6 308.7,776.6 358.6,808.5 557.6,864.6" fill="none" stroke="#a4580e" stroke-width="1.8"/>
<path d="M107.5,749.8V793.0M104.8,749.8h5.4M104.8,793.0h5.4" fill="none" stroke="#a4580e" stroke-width="1.6"/>
<path d="M114.4,717.9V784.0M111.7,717.9h5.4M111.7,784.0h5.4" fill="none" stroke="#a4580e" stroke-width="1.6"/>
<path d="M121.5,787.0V869.1M118.8,787.0h5.4M118.8,869.1h5.4" fill="none" stroke="#a4580e" stroke-width="1.6"/>
<path d="M130.1,762.0V816.8M127.4,762.0h5.4M127.4,816.8h5.4" fill="none" stroke="#a4580e" stroke-width="1.6"/>
<path d="M141.3,767.5V807.0M138.6,767.5h5.4M138.6,807.0h5.4" fill="none" stroke="#a4580e" stroke-width="1.6"/>
<path d="M155.3,772.0V814.6M152.6,772.0h5.4M152.6,814.6h5.4" fill="none" stroke="#a4580e" stroke-width="1.6"/>
<path d="M173.8,751.9V783.0M171.1,751.9h5.4M171.1,783.0h5.4" fill="none" stroke="#a4580e" stroke-width="1.6"/>
<path d="M197.0,800.0V833.7M194.3,800.0h5.4M194.3,833.7h5.4" fill="none" stroke="#a4580e" stroke-width="1.6"/>
<path d="M227.6,787.0V819.0M224.9,787.0h5.4M224.9,819.0h5.4" fill="none" stroke="#a4580e" stroke-width="1.6"/>
<path d="M264.8,787.0V823.2M262.1,787.0h5.4M262.1,823.2h5.4" fill="none" stroke="#a4580e" stroke-width="1.6"/>
<path d="M308.7,759.8V794.0M306.0,759.8h5.4M306.0,794.0h5.4" fill="none" stroke="#a4580e" stroke-width="1.6"/>
<path d="M358.6,782.7V833.1M355.9,782.7h5.4M355.9,833.1h5.4" fill="none" stroke="#a4580e" stroke-width="1.6"/>
<path d="M557.6,831.3V905.0M554.9,831.3h5.4M554.9,905.0h5.4" fill="none" stroke="#a4580e" stroke-width="1.6"/>
<path d="M107.5,766.3L108.7,769.7L112.3,769.8L109.4,771.9L110.4,775.3L107.5,773.3L104.6,775.3L105.6,771.9L102.7,769.8L106.3,769.7Z" fill="#a4580e"/>
<path d="M114.4,746.0L115.6,749.4L119.2,749.5L116.3,751.6L117.3,755.0L114.4,753.0L111.5,755.0L112.5,751.6L109.6,749.5L113.2,749.4Z" fill="#a4580e"/>
<path d="M121.5,822.8L122.7,826.2L126.3,826.3L123.4,828.4L124.4,831.8L121.5,829.8L118.6,831.8L119.6,828.4L116.7,826.3L120.3,826.2Z" fill="#a4580e"/>
<path d="M130.1,784.6L131.3,788.0L134.9,788.1L132.0,790.2L133.0,793.6L130.1,791.6L127.2,793.6L128.2,790.2L125.3,788.1L128.9,788.0Z" fill="#a4580e"/>
<path d="M141.3,782.4L142.5,785.8L146.1,785.9L143.2,788.0L144.2,791.4L141.3,789.4L138.4,791.4L139.4,788.0L136.5,785.9L140.1,785.8Z" fill="#a4580e"/>
<path d="M155.3,788.3L156.5,791.7L160.1,791.8L157.2,793.9L158.2,797.3L155.3,795.3L152.4,797.3L153.4,793.9L150.5,791.8L154.1,791.7Z" fill="#a4580e"/>
<path d="M173.8,762.3L175.0,765.7L178.6,765.8L175.7,767.9L176.7,771.3L173.8,769.3L170.9,771.3L171.9,767.9L169.0,765.8L172.6,765.7Z" fill="#a4580e"/>
<path d="M197.0,811.1L198.2,814.5L201.8,814.6L198.9,816.7L199.9,820.1L197.0,818.1L194.1,820.1L195.1,816.7L192.2,814.6L195.8,814.5Z" fill="#a4580e"/>
<path d="M227.6,797.7L228.8,801.1L232.4,801.2L229.5,803.3L230.5,806.7L227.6,804.7L224.7,806.7L225.7,803.3L222.8,801.2L226.4,801.1Z" fill="#a4580e"/>
<path d="M264.8,800.6L266.0,804.0L269.6,804.1L266.7,806.2L267.7,809.6L264.8,807.6L261.9,809.6L262.9,806.2L260.0,804.1L263.6,804.0Z" fill="#a4580e"/>
<path d="M308.7,771.6L309.9,775.0L313.5,775.1L310.6,777.2L311.6,780.6L308.7,778.6L305.8,780.6L306.8,777.2L303.9,775.1L307.5,775.0Z" fill="#a4580e"/>
<path d="M358.6,803.5L359.8,806.9L363.4,807.0L360.5,809.1L361.5,812.5L358.6,810.5L355.7,812.5L356.7,809.1L353.8,807.0L357.4,806.9Z" fill="#a4580e"/>
<path d="M557.6,859.6L558.8,863.0L562.4,863.1L559.5,865.2L560.5,868.6L557.6,866.6L554.7,868.6L555.7,865.2L552.8,863.1L556.4,863.0Z" fill="#a4580e"/>
</g>
<g stroke="#000" fill="none">
<rect x="91.15" y="35.0" width="650.95" height="920.5" stroke-width="2"/>
<line x1="91.15" x2="742.1" y1="635.0" y2="635.0" stroke-width="2"/>
</g>
<g stroke="#000" fill="none">
<path d="M104.0,35.0v16.2M104.0,635.0v-16.2M104.0,635.0v10M104.0,955.5v-10" stroke-width="1.8"/>
<path d="M135.3,35.0v4M135.3,635.0v-4M135.3,635.0v2.5M135.3,955.5v-2.5" stroke-width="1.5"/>
<path d="M166.6,35.0v8M166.6,635.0v-8M166.6,635.0v5M166.6,955.5v-5" stroke-width="1.5"/>
<path d="M197.9,35.0v4M197.9,635.0v-4M197.9,635.0v2.5M197.9,955.5v-2.5" stroke-width="1.5"/>
<path d="M229.2,35.0v8M229.2,635.0v-8M229.2,635.0v5M229.2,955.5v-5" stroke-width="1.5"/>
<path d="M260.5,35.0v4M260.5,635.0v-4M260.5,635.0v2.5M260.5,955.5v-2.5" stroke-width="1.5"/>
<path d="M291.8,35.0v8M291.8,635.0v-8M291.8,635.0v5M291.8,955.5v-5" stroke-width="1.5"/>
<path d="M323.1,35.0v4M323.1,635.0v-4M323.1,635.0v2.5M323.1,955.5v-2.5" stroke-width="1.5"/>
<path d="M354.4,35.0v8M354.4,635.0v-8M354.4,635.0v5M354.4,955.5v-5" stroke-width="1.5"/>
<path d="M385.7,35.0v4M385.7,635.0v-4M385.7,635.0v2.5M385.7,955.5v-2.5" stroke-width="1.5"/>
<path d="M417.0,35.0v16.2M417.0,635.0v-16.2M417.0,635.0v10M417.0,955.5v-10" stroke-width="1.8"/>
<path d="M448.3,35.0v4M448.3,635.0v-4M448.3,635.0v2.5M448.3,955.5v-2.5" stroke-width="1.5"/>
<path d="M479.6,35.0v8M479.6,635.0v-8M479.6,635.0v5M479.6,955.5v-5" stroke-width="1.5"/>
<path d="M510.9,35.0v4M510.9,635.0v-4M510.9,635.0v2.5M510.9,955.5v-2.5" stroke-width="1.5"/>
<path d="M542.2,35.0v8M542.2,635.0v-8M542.2,635.0v5M542.2,955.5v-5" stroke-width="1.5"/>
<path d="M573.5,35.0v4M573.5,635.0v-4M573.5,635.0v2.5M573.5,955.5v-2.5" stroke-width="1.5"/>
<path d="M604.8,35.0v8M604.8,635.0v-8M604.8,635.0v5M604.8,955.5v-5" stroke-width="1.5"/>
<path d="M636.1,35.0v4M636.1,635.0v-4M636.1,635.0v2.5M636.1,955.5v-2.5" stroke-width="1.5"/>
<path d="M667.4,35.0v8M667.4,635.0v-8M667.4,635.0v5M667.4,955.5v-5" stroke-width="1.5"/>
<path d="M698.7,35.0v4M698.7,635.0v-4M698.7,635.0v2.5M698.7,955.5v-2.5" stroke-width="1.5"/>
<path d="M730.0,35.0v16.2M730.0,635.0v-16.2M730.0,635.0v10M730.0,955.5v-10" stroke-width="1.8"/>
<path d="M91.15,629.8h11M742.1,629.8h-11" stroke-width="1.5"/>
<path d="M91.15,623.0h22.8M742.1,623.0h-22.8" stroke-width="1.5"/>
<path d="M91.15,578.6h11M742.1,578.6h-11" stroke-width="1.5"/>
<path d="M91.15,552.6h11M742.1,552.6h-11" stroke-width="1.5"/>
<path d="M91.15,534.1h11M742.1,534.1h-11" stroke-width="1.5"/>
<path d="M91.15,519.8h11M742.1,519.8h-11" stroke-width="1.5"/>
<path d="M91.15,508.1h11M742.1,508.1h-11" stroke-width="1.5"/>
<path d="M91.15,498.2h11M742.1,498.2h-11" stroke-width="1.5"/>
<path d="M91.15,489.7h11M742.1,489.7h-11" stroke-width="1.5"/>
<path d="M91.15,482.1h11M742.1,482.1h-11" stroke-width="1.5"/>
<path d="M91.15,475.3h22.8M742.1,475.3h-22.8" stroke-width="1.5"/>
<path d="M91.15,430.9h11M742.1,430.9h-11" stroke-width="1.5"/>
<path d="M91.15,404.9h11M742.1,404.9h-11" stroke-width="1.5"/>
<path d="M91.15,386.4h11M742.1,386.4h-11" stroke-width="1.5"/>
<path d="M91.15,372.1h11M742.1,372.1h-11" stroke-width="1.5"/>
<path d="M91.15,360.4h11M742.1,360.4h-11" stroke-width="1.5"/>
<path d="M91.15,350.5h11M742.1,350.5h-11" stroke-width="1.5"/>
<path d="M91.15,342.0h11M742.1,342.0h-11" stroke-width="1.5"/>
<path d="M91.15,334.4h11M742.1,334.4h-11" stroke-width="1.5"/>
<path d="M91.15,327.7h22.8M742.1,327.7h-22.8" stroke-width="1.5"/>
<path d="M91.15,283.2h11M742.1,283.2h-11" stroke-width="1.5"/>
<path d="M91.15,257.2h11M742.1,257.2h-11" stroke-width="1.5"/>
<path d="M91.15,238.8h11M742.1,238.8h-11" stroke-width="1.5"/>
<path d="M91.15,224.5h11M742.1,224.5h-11" stroke-width="1.5"/>
<path d="M91.15,212.8h11M742.1,212.8h-11" stroke-width="1.5"/>
<path d="M91.15,202.9h11M742.1,202.9h-11" stroke-width="1.5"/>
<path d="M91.15,194.3h11M742.1,194.3h-11" stroke-width="1.5"/>
<path d="M91.15,186.8h11M742.1,186.8h-11" stroke-width="1.5"/>
<path d="M91.15,180.0h22.8M742.1,180.0h-22.8" stroke-width="1.5"/>
<path d="M91.15,135.5h11M742.1,135.5h-11" stroke-width="1.5"/>
<path d="M91.15,109.5h11M742.1,109.5h-11" stroke-width="1.5"/>
<path d="M91.15,91.1h11M742.1,91.1h-11" stroke-width="1.5"/>
<path d="M91.15,76.8h11M742.1,76.8h-11" stroke-width="1.5"/>
<path d="M91.15,65.1h11M742.1,65.1h-11" stroke-width="1.5"/>
<path d="M91.15,55.2h11M742.1,55.2h-11" stroke-width="1.5"/>
<path d="M91.15,46.6h11M742.1,46.6h-11" stroke-width="1.5"/>
<path d="M91.15,39.1h11M742.1,39.1h-11" stroke-width="1.5"/>
<path d="M91.15,916.9h10M742.1,916.9h-10" stroke-width="1.5"/>
<path d="M91.15,916.9h15M742.1,916.9h-15" stroke-width="1.5"/>
<path d="M91.15,885.0h10M742.1,885.0h-10" stroke-width="1.5"/>
<path d="M91.15,858.0h10M742.1,858.0h-10" stroke-width="1.5"/>
<path d="M91.15,834.6h10M742.1,834.6h-10" stroke-width="1.5"/>
<path d="M91.15,814.0h10M742.1,814.0h-10" stroke-width="1.5"/>
<path d="M91.15,795.5h10M742.1,795.5h-10" stroke-width="1.5"/>
<path d="M91.15,795.5h15M742.1,795.5h-15" stroke-width="1.5"/>
<path d="M91.15,778.8h10M742.1,778.8h-10" stroke-width="1.5"/>
<path d="M91.15,763.6h10M742.1,763.6h-10" stroke-width="1.5"/>
<path d="M91.15,749.5h10M742.1,749.5h-10" stroke-width="1.5"/>
<path d="M91.15,736.6h10M742.1,736.6h-10" stroke-width="1.5"/>
<path d="M91.15,724.5h10M742.1,724.5h-10" stroke-width="1.5"/>
<path d="M91.15,713.2h10M742.1,713.2h-10" stroke-width="1.5"/>
<path d="M91.15,702.6h10M742.1,702.6h-10" stroke-width="1.5"/>
<path d="M91.15,692.5h10M742.1,692.5h-10" stroke-width="1.5"/>
<path d="M91.15,683.1h10M742.1,683.1h-10" stroke-width="1.5"/>
<path d="M91.15,674.1h10M742.1,674.1h-10" stroke-width="1.5"/>
<path d="M91.15,674.1h15M742.1,674.1h-15" stroke-width="1.5"/>
<path d="M91.15,665.5h10M742.1,665.5h-10" stroke-width="1.5"/>
<path d="M91.15,657.4h10M742.1,657.4h-10" stroke-width="1.5"/>
<path d="M91.15,649.6h10M742.1,649.6h-10" stroke-width="1.5"/>
<path d="M91.15,642.2h10M742.1,642.2h-10" stroke-width="1.5"/>
</g>
<path d="M63.30,172.60L63.30,189.00L60.80,189.00L60.80,177.50L56.90,177.50L56.90,175.70L58.70,175.50L60.30,174.20L61.40,172.60Z" fill="#000" stroke="none"/>
<path d="M74.40,320.50L74.40,336.90L71.90,336.90L71.90,325.40L68.00,325.40L68.00,323.60L69.80,323.40L71.40,322.10L72.50,320.50Z" fill="#000" stroke="none"/>
<path d="M49.30,469.50L49.30,485.90L46.80,485.90L46.80,474.40L42.90,474.40L42.90,472.60L44.70,472.40L46.30,471.10L47.40,469.50Z" fill="#000" stroke="none"/>
<path d="M79.50,465.23L79.50,476.00L77.86,476.00L77.86,468.45L75.30,468.45L75.30,467.26L76.48,467.13L77.53,466.28L78.26,465.23Z" fill="#000" stroke="none"/>
<path d="M46.40,617.20L46.40,633.60L43.90,633.60L43.90,622.10L40.00,622.10L40.00,620.30L41.80,620.10L43.40,618.80L44.50,617.20Z" fill="#000" stroke="none"/>
<path d="M74.40,788.40L74.40,804.80L71.90,804.80L71.90,793.30L68.00,793.30L68.00,791.50L69.80,791.30L71.40,790.00L72.50,788.40Z" fill="#000" stroke="none"/>
<path d="M756.20,788.40L756.20,804.80L753.70,804.80L753.70,793.30L749.80,793.30L749.80,791.50L751.60,791.30L753.20,790.00L754.30,788.40Z" fill="#000" stroke="none"/>
<path d="M734.30,961.60L734.30,978.00L731.80,978.00L731.80,966.50L727.90,966.50L727.90,964.70L729.70,964.50L731.30,963.20L732.40,961.60Z" fill="#000" stroke="none"/>
<text transform="translate(103.79,29.00) scale(1.0242,1)" font-size="23.6" fill="#000" stroke="#000" stroke-width="0.35">13000 GeV pp</text>
<text transform="translate(669.85,29.00) scale(1.0149,1)" font-size="23.6" fill="#000" stroke="#000" stroke-width="0.35">Z+Jet</text>
<text transform="translate(122.03,87.00) scale(1.0618,1)" font-size="23.6" fill="#000" stroke="#000" stroke-width="0.35">CMS,</text>
<text transform="translate(190.53,87.00) scale(1.0664,1)" font-size="23.6" fill="#000" stroke="#000" stroke-width="0.35">13</text>
<text transform="translate(223.78,87.00) scale(1.1508,1)" font-size="23.6" fill="#000" stroke="#000" stroke-width="0.35">TeV,</text>
<text transform="translate(282.40,87.00) scale(1.0018,1)" font-size="23.6" fill="#000" stroke="#000" stroke-width="0.35">AK4</text>
<text transform="translate(334.66,87.00) scale(1.0294,1)" font-size="23.6" fill="#000" stroke="#000" stroke-width="0.35">jets,</text>
<text transform="translate(386.07,87.00) scale(0.9835,1)" font-size="23.6" fill="#000" stroke="#000" stroke-width="0.35">Z+jet</text>
<text transform="translate(446.68,87.00) scale(1.0273,1)" font-size="23.6" fill="#000" stroke="#000" stroke-width="0.35">region,</text>
<text transform="translate(527.38,87.00) scale(0.9829,1)" font-size="23.6" fill="#000" stroke="#000" stroke-width="0.35">50</text>
<text transform="translate(560.73,87.00) scale(1.0546,1)" font-size="23.6" fill="#000" stroke="#000" stroke-width="0.35">&lt;p</text>
<text transform="translate(581.46,70.80) scale(0.9879,1)" font-size="15.5" fill="#000" stroke="#000" stroke-width="0.35">{jet</text>
<text transform="translate(581.47,99.60) scale(0.9374,1)" font-size="15.5" fill="#000" stroke="#000" stroke-width="0.35">T</text>
<text transform="translate(602.62,87.00) scale(1.0204,1)" font-size="23.6" fill="#000" stroke="#000" stroke-width="0.35">}&lt; 65 GeV</text>
<text transform="translate(67.13,189.20) scale(0.9068,1)" font-size="23.6" fill="#000" stroke="#000" stroke-width="0.35">0</text>
<text transform="translate(53.04,486.00) scale(0.8983,1)" font-size="23.6" fill="#000" stroke="#000" stroke-width="0.35">0</text>
<text transform="translate(64.59,476.00) scale(0.9806,1)" font-size="15.5" fill="#000" stroke="#000" stroke-width="0.35">&#8722;</text>
<text transform="translate(50.03,633.70) scale(0.9068,1)" font-size="23.6" fill="#000" stroke="#000" stroke-width="0.35">0</text>
<text transform="translate(61.65,623.70) scale(1.0357,1)" font-size="15.5" fill="#000" stroke="#000" stroke-width="0.35">&#8722;2</text>
<text transform="translate(63.54,683.00) scale(1.0486,1)" font-size="23.6" fill="#000" stroke="#000" stroke-width="0.35">2</text>
<text transform="translate(747.29,683.00) scale(1.0938,1)" font-size="23.6" fill="#000" stroke="#000" stroke-width="0.35">2</text>
<text transform="translate(44.98,925.40) scale(0.9739,1)" font-size="23.6" fill="#000" stroke="#000" stroke-width="0.35">0.5</text>
<text transform="translate(747.95,925.40) scale(1.0124,1)" font-size="23.6" fill="#000" stroke="#000" stroke-width="0.35">0.5</text>
<text transform="translate(96.98,978.00) scale(0.9746,1)" font-size="23.6" fill="#000" stroke="#000" stroke-width="0.35">0</text>
<text transform="translate(401.26,978.00) scale(0.9996,1)" font-size="23.6" fill="#000" stroke="#000" stroke-width="0.35">0.5</text>
<text transform="translate(415.91,1006.90) scale(0.9931,1)" font-size="25.5" fill="#000" stroke="#000" stroke-width="0.35">groomed width (charged-only)</text>
<text transform="translate(35.70,847.10) rotate(-90) scale(1.0191,1)" font-size="17.6" fill="#000" stroke="#000" stroke-width="0.35">Ratio to CMS</text>
<text transform="translate(334.06,604.10) scale(1.0282,1)" font-size="15.3" fill="#9c9c9c" stroke="#9c9c9c" stroke-width="0.2">(CMS_2021_I1920187)</text>
<text transform="translate(760.30,254.66) rotate(-90) scale(0.9761,1)" font-size="19.2" fill="#828282" stroke="#828282" stroke-width="0.2">Rivet</text>
<text transform="translate(760.30,207.10) rotate(-90) scale(1.0151,1)" font-size="19.2" fill="#828282" stroke="#828282" stroke-width="0.2">4.1.0,</text>
<text transform="translate(760.30,154.35) rotate(-90) scale(1.0833,1)" font-size="19.2" fill="#828282" stroke="#828282" stroke-width="0.2">&#8805;</text>
<text transform="translate(760.30,136.48) rotate(-90) scale(0.9034,1)" font-size="19.2" fill="#828282" stroke="#828282" stroke-width="0.2">100k</text>
<text transform="translate(760.30,94.72) rotate(-90) scale(1.0313,1)" font-size="19.2" fill="#828282" stroke="#828282" stroke-width="0.2">events</text>
<text transform="translate(762.20,628.88) rotate(-90) scale(0.9954,1)" font-size="18.9" fill="#626262" stroke="#626262" stroke-width="0.2">mcplots.cern.ch</text>
<text transform="translate(762.20,490.77) rotate(-90) scale(0.9940,1)" font-size="18.9" fill="#626262" stroke="#626262" stroke-width="0.2">[arXiv:2401</text>
<text transform="translate(762.20,394.03) rotate(-90) scale(0.9675,1)" font-size="18.9" fill="#626262" stroke="#626262" stroke-width="0.2">.</text>
<text transform="translate(762.20,387.04) rotate(-90) scale(0.9656,1)" font-size="18.9" fill="#626262" stroke="#626262" stroke-width="0.2">10621]</text>
<text transform="translate(186.38,428.30) scale(1.0682,1)" font-size="18.3" fill="#000" stroke="#000" stroke-width="0.35">CMS</text>
<text transform="translate(186.82,454.40) scale(1.0349,1)" font-size="18.3" fill="#000" stroke="#000" stroke-width="0.35">Pythia 8.315 default</text>
<text transform="translate(186.82,480.40) scale(1.0359,1)" font-size="18.3" fill="#000" stroke="#000" stroke-width="0.35">Pythia 8.315 tune-AU2</text>
<text transform="translate(186.82,506.40) scale(1.0320,1)" font-size="18.3" fill="#000" stroke="#000" stroke-width="0.35">Pythia 8.315 tune-AU2lox</text>
<text transform="translate(186.82,532.50) scale(1.0328,1)" font-size="18.3" fill="#000" stroke="#000" stroke-width="0.35">Pythia 8.315 tune-AU2loxx</text>
<text transform="translate(186.82,558.60) scale(1.0376,1)" font-size="18.3" fill="#000" stroke="#000" stroke-width="0.35">Pythia 8.315 tune-AU2m</text>
<g transform="translate(0,270) rotate(-90)" fill="#000" stroke="#000" stroke-width="0.35" font-size="23.6" text-anchor="middle">
<text x="9.8" y="27.8">#</text>
<text x="136.0" y="27.8">#</text>
<path d="M17.6,20.9H128.4M142.7,21.1H235.1" stroke="#000" stroke-width="2.0" fill="none"/>
<path d="M77.19,0.91L77.19,17.80L74.62,17.80L74.62,5.96L70.60,5.96L70.60,4.11L72.45,3.90L74.10,2.56L75.23,0.91Z" fill="#000" stroke="none"/>
<text x="29.3" y="42.5">d</text>
<text x="52.5" y="42.5">N</text>
<text x="71.3" y="42.5">/</text>
<text x="94.2" y="42.5">d</text>
<text x="114.7" y="42.5">p</text>
<text x="122.9" y="56.0" font-size="15.5">T</text>
<text x="155.6" y="43.4">d</text>
<text x="176.5" y="43.4">p</text>
<text x="185.8" y="57.0" font-size="15.5">T</text>
<text x="211.8" y="43.4">d</text>
<text x="228.4" y="43.4">&#955;</text>
<text x="180.5" y="17.6">d</text>
<text x="190.7" y="5.6" font-size="11.5">2</text>
<text x="203.8" y="17.6">N</text>
</g>
<rect x="148.0" y="416.9" width="10.6" height="10.6" fill="#000"/>
<line x1="128.9" x2="177.0" y1="448.3" y2="448.3" stroke="#0000ff" stroke-width="1.5"/>
<path d="M147.9,453.4L158.5,453.4L153.2,443.2Z" fill="#0000ff"/>
<line x1="128.9" x2="177.0" y1="474" y2="474" stroke="#990050" stroke-width="1.5" stroke-dasharray="4.14 4.14"/>
<path d="M148.7,469.8L157.7,469.8L153.2,478.2Z" fill="#990050"/>
<line x1="128.9" x2="177.0" y1="500" y2="500" stroke="#b6104a" stroke-width="1.5" stroke-dasharray="4.14 5.52 1.38 5.52"/>
<path d="M153.2,495.7L156.2,500.0L153.2,504.3L150.2,500.0Z" fill="none" stroke="#b6104a" stroke-width="1.3"/>
<line x1="128.9" x2="177.0" y1="526" y2="526" stroke="#c24a12" stroke-width="1.5" stroke-dasharray="6.9 4.14 1.38 4.14"/>
<rect x="149.1" y="521.9" width="8.2" height="8.2" fill="none" stroke="#c24a12" stroke-width="1.3"/>
<line x1="128.9" x2="177.0" y1="552" y2="552" stroke="#a4580e" stroke-width="1.5"/>
<path d="M153.2,547.0L154.4,550.4L158.0,550.5L155.1,552.6L156.1,556.0L153.2,554.0L150.3,556.0L151.3,552.6L148.4,550.5L152.0,550.4Z" fill="#a4580e"/>
</svg>
</body></html>
